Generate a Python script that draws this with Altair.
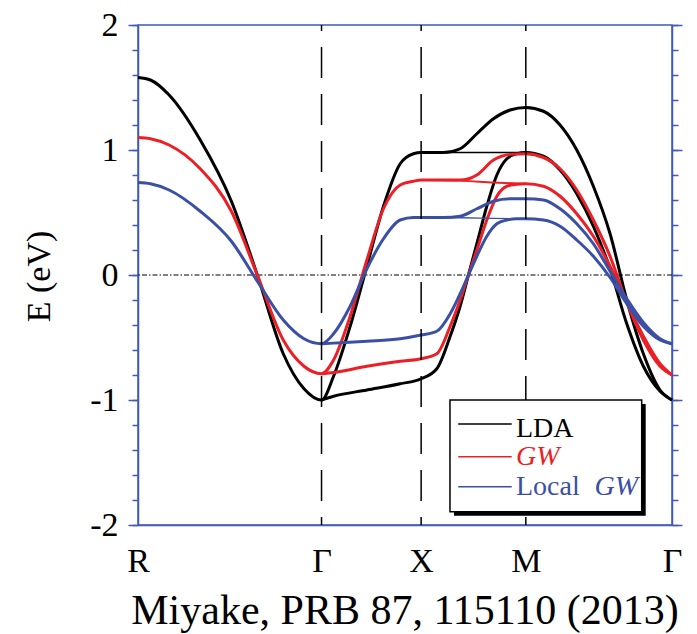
import altair as alt
import pandas as pd

# ---------------- k-path (symmetry points) ----------------
K_LABELS = ["R", "Γ", "X", "M", "Γ"]
K_POS = [0.0, 1.769, 2.729, 3.738, 5.147]

METHODS = ["LDA", "GW", "Local GW"]
COLORS = ["#000000", "#ec1f26", "#3b4fa5"]

# ---------------- k samples along the path ----------------
K_RG = [0.0, 0.12, 0.3, 0.6, 0.9, 1.15, 1.4, 1.6, 1.769]
K_GX_UP = [1.885, 2.045, 2.206, 2.366, 2.527, 2.655, 2.729]
K_XM_BUMP = [2.944, 3.105, 3.266, 3.426, 3.587, 3.738]
K_MG = [3.908, 4.068, 4.229, 4.389, 4.550, 4.711, 4.871, 5.032, 5.147]
K_GX_LOW = [1.769, 1.885, 2.206, 2.527, 2.729]
K_XM_STEEP = [2.880, 3.009, 3.105, 3.185, 3.266, 3.362, 3.459, 3.555, 3.651, 3.738]
K_FLAT = [2.729, 3.105, 3.426, 3.738]

# ---------------- LDA (eV) ----------------
LDA_RG = [1.58, 1.56, 1.44, 1.08, 0.59, 0.00, -0.63, -0.91, -1.00]
LDA_GX_UP = [-0.81, -0.41, 0.07, 0.55, 0.89, 0.97, 0.98]
LDA_XM_BUMP = [0.98, 1.01, 1.13, 1.25, 1.32, 1.34]
LDA_MG_A = [1.31, 1.20, 1.00, 0.71, 0.33, -0.20, -0.63, -0.92, -1.00]
LDA_GX_LOW = [-1.00, -0.97, -0.92, -0.87, -0.83]
LDA_XM_STEEP = [-0.75, -0.49, -0.25, 0.00, 0.25, 0.55, 0.80, 0.93, 0.97, 0.98]
LDA_MG_B = [0.95, 0.84, 0.65, 0.39, 0.05, -0.39, -0.73, -0.93, -1.00]
LDA_FLAT = [0.98, 0.98, 0.98, 0.98]

# ---------------- GW (eV) ----------------
GW_RG = [1.10, 1.09, 1.04, 0.85, 0.51, 0.00, -0.52, -0.73, -0.79]
GW_GX_UP = [-0.68, -0.33, 0.12, 0.53, 0.72, 0.75, 0.76]
GW_XM_BUMP = [0.76, 0.76, 0.80, 0.92, 0.965, 0.97]
GW_MG_A = [0.94, 0.85, 0.68, 0.44, 0.15, -0.22, -0.52, -0.73, -0.80]
GW_GX_LOW = [-0.79, -0.78, -0.73, -0.69, -0.67]
GW_XM_STEEP = [-0.63, -0.41, -0.20, 0.00, 0.20, 0.44, 0.63, 0.71, 0.725, 0.73]
GW_MG_B = [0.71, 0.63, 0.49, 0.31, 0.07, -0.22, -0.49, -0.71, -0.80]
GW_FLAT = [0.76, 0.755, 0.74, 0.73]

# ---------------- Local GW (eV) ----------------
LGW_RG = [0.74, 0.73, 0.68, 0.51, 0.27, -0.05, -0.36, -0.51, -0.55]
LGW_GX_UP = [-0.47, -0.25, 0.05, 0.29, 0.44, 0.46, 0.46]
LGW_XM_BUMP = [0.46, 0.47, 0.53, 0.59, 0.61, 0.61]
LGW_MG_A = [0.60, 0.53, 0.41, 0.25, 0.03, -0.19, -0.38, -0.51, -0.55]
LGW_GX_LOW = [-0.55, -0.545, -0.53, -0.51, -0.48]
LGW_XM_STEEP = [-0.45, -0.31, -0.15, 0.00, 0.15, 0.31, 0.41, 0.44, 0.45, 0.45]
LGW_MG_B = [0.44, 0.39, 0.28, 0.15, -0.02, -0.23, -0.41, -0.52, -0.55]
LGW_FLAT = [0.46, 0.458, 0.453, 0.45]

SERIES = {
    "LDA": (LDA_RG, LDA_GX_UP, LDA_XM_BUMP, LDA_MG_A, LDA_GX_LOW, LDA_XM_STEEP, LDA_MG_B, LDA_FLAT),
    "GW": (GW_RG, GW_GX_UP, GW_XM_BUMP, GW_MG_A, GW_GX_LOW, GW_XM_STEEP, GW_MG_B, GW_FLAT),
    "Local GW": (LGW_RG, LGW_GX_UP, LGW_XM_BUMP, LGW_MG_A, LGW_GX_LOW, LGW_XM_STEEP, LGW_MG_B, LGW_FLAT),
}

# legend text pieces (upright and italic parts)
LEG_NORMAL_METHOD = ["LDA", "Local GW"]
LEG_NORMAL_TEXT = ["LDA", "Local"]
LEG_ITALIC_METHOD = ["GW", "Local GW"]
LEG_ITALIC_TEXT = ["GW", "GW"]


def band_frames(method):
    rg, gxu, xmb, mga, gxl, xms, mgb, flat = SERIES[method]
    ka = K_RG + K_GX_UP + K_XM_BUMP + K_MG
    ea = rg + gxu + xmb + mga
    kb = K_GX_LOW + K_XM_STEEP + K_MG
    eb = gxl + xms + mgb
    thick = pd.DataFrame({
        "k": ka + kb,
        "E": ea + eb,
        "band": ["a"] * len(ka) + ["b"] * len(kb),
    })
    thin = pd.DataFrame({"k": K_FLAT, "E": flat, "band": ["c"] * len(K_FLAT)})
    return thick, thin


AX = "#4259b5"
FONT = "Liberation Serif"
TICK_FS = 34

xscale = alt.Scale(domain=[K_POS[0], K_POS[-1]], nice=False, zero=False)
yscale = alt.Scale(domain=[-2, 2], nice=False, zero=False)

Y_MAJOR = [-2, -1, 0, 1, 2]
Y_MINOR = [round(-2 + 0.2 * i, 1) for i in range(21)]

# label lookup expression built from the label / position lists
x_label_expr = "''"
for pos, lab in reversed(list(zip(K_POS, K_LABELS))):
    x_label_expr = "abs(datum.value - {}) < 0.01 ? '{}' : ({})".format(pos, lab, x_label_expr)

x_axis = alt.Axis(values=K_POS, labelExpr=x_label_expr, ticks=False, domain=True,
                  domainColor=AX, domainWidth=1.5, labelFont=FONT, labelFontSize=TICK_FS,
                  labelColor="black", labelPadding=19, labelFlush=False,
                  labelOverlap=False, grid=False, title=None)


def X(field):
    # every layer uses the same x axis definition so the shared axis merges cleanly
    return alt.X(field, scale=xscale, axis=x_axis)


y_label_expr = ("abs(datum.value - round(datum.value)) < 0.001 ? "
                "(datum.value < -0.5 ? '-' + format(abs(datum.value), 'd') : format(datum.value, 'd')) : ''")

y_left_minor = alt.Axis(orient="left", values=Y_MINOR, tickSize=6, tickColor=AX, tickWidth=1.5,
                        domain=True, domainColor=AX, domainWidth=1.5, labelExpr=y_label_expr,
                        labelFont=FONT, labelFontSize=TICK_FS, labelColor="black", labelPadding=14,
                        labelOverlap=False, grid=False, title="E (eV)", titleFont=FONT,
                        titleFontSize=34, titleFontWeight="normal", titleColor="black",
                        titleAngle=270, titleX=-89, titleY=251, titleAlign="center",
                        titleBaseline="alphabetic")
y_left_major = alt.Axis(orient="left", values=Y_MAJOR, tickSize=10, tickColor=AX, tickWidth=1.5,
                        domain=False, labels=False, grid=False, title=None)
y_right_minor = alt.Axis(orient="right", values=Y_MINOR, tickSize=6, tickColor=AX, tickWidth=1.5,
                         domain=True, domainColor=AX, domainWidth=1.5, labels=False, grid=False,
                         title=None)
y_right_major = alt.Axis(orient="right", values=Y_MAJOR, tickSize=10, tickColor=AX, tickWidth=1.5,
                         domain=False, labels=False, grid=False, title=None)

layers = []

# zero line (dash-dot); carries the right major ticks
zero = alt.Chart(pd.DataFrame({"E": [0.0]})).mark_rule(
    color="black", strokeDash=[5, 2, 1.5, 2], strokeWidth=1.2
).encode(y=alt.Y("E:Q", scale=yscale, axis=y_right_major))
layers.append(zero)

axes_for = {"LDA": y_left_minor, "GW": y_left_major, "Local GW": y_right_minor}
for i, m in enumerate(METHODS):
    thick, thin = band_frames(m)
    layers.append(
        alt.Chart(thick).mark_line(color=COLORS[i], strokeWidth=3, interpolate="monotone").encode(
            x=X("k:Q"),
            y=alt.Y("E:Q", scale=yscale, axis=axes_for[m]),
            detail="band:N",
        )
    )
    layers.append(
        alt.Chart(thin).mark_line(color=COLORS[i], strokeWidth=(2.0 if m == "GW" else 1.3),
                                  interpolate="monotone").encode(
            x=X("k:Q"),
            y=alt.Y("E:Q", scale=yscale, axis=None),
            detail="band:N",
        )
    )

# dashed lines at the inner symmetry points
sym = alt.Chart(pd.DataFrame({"k": K_POS[1:4]})).mark_rule(
    color="black", strokeDash=[31, 16], strokeDashOffset=25, strokeWidth=1.5
).encode(x=X("k:Q"))
layers.append(sym)

# ---------------- legend (placed in data coordinates) ----------------
box = pd.DataFrame({"k1": [3.007], "k2": [4.855], "E1": [-1.0], "E2": [-1.894]})
shadow = alt.Chart(box).mark_rect(color="black", xOffset=4, x2Offset=4, yOffset=4, y2Offset=4).encode(
    x=X("k1:Q"), x2="k2:Q",
    y=alt.Y("E1:Q", scale=yscale, axis=None), y2="E2:Q")
frame = alt.Chart(box).mark_rect(fill="white", stroke="black", strokeWidth=1.5).encode(
    x=X("k1:Q"), x2="k2:Q",
    y=alt.Y("E1:Q", scale=yscale, axis=None), y2="E2:Q")
layers += [shadow, frame]

cscale = alt.Scale(domain=METHODS, range=COLORS)
leg_lines = pd.DataFrame({"method": METHODS, "k1": [3.087] * 3, "k2": [3.602] * 3,
                          "E": [-1.192, -1.454, -1.694]})
layers.append(
    alt.Chart(leg_lines).mark_rule(strokeWidth=1.6).encode(
        x=X("k1:Q"), x2="k2:Q",
        y=alt.Y("E:Q", scale=yscale, axis=None),
        color=alt.Color("method:N", scale=cscale, legend=None))
)
leg_normal = pd.DataFrame({"method": LEG_NORMAL_METHOD, "txt": LEG_NORMAL_TEXT,
                           "k": [3.643, 3.643], "E": [-1.296, -1.76]})
leg_italic = pd.DataFrame({"method": LEG_ITALIC_METHOD, "txt": LEG_ITALIC_TEXT,
                           "k": [3.643, 4.40], "E": [-1.52, -1.76]})
for df, style in ((leg_normal, "normal"), (leg_italic, "italic")):
    layers.append(
        alt.Chart(df).mark_text(align="left", baseline="alphabetic", font=FONT, fontSize=28,
                                fontStyle=style).encode(
            x=X("k:Q"),
            y=alt.Y("E:Q", scale=yscale, axis=None),
            text="txt:N",
            color=alt.Color("method:N", scale=cscale, legend=None))
    )

chart = alt.layer(*layers).resolve_axis(y="independent").properties(
    width=534, height=500,
    padding={"left": 138, "top": 25, "right": 25, "bottom": 109},
    autosize=alt.AutoSizeParams(type="none"),
    background="white",
    title=alt.TitleParams("Miyake, PRB 87, 115110 (2013)", orient="bottom", anchor="middle",
                          frame="group", font=FONT, fontSize=42, fontWeight="normal",
                          color="black", offset=13),
).configure_view(stroke=AX, strokeWidth=1.5)

chart.save("out.html", embed_options={"renderer": "svg", "actions": False})
